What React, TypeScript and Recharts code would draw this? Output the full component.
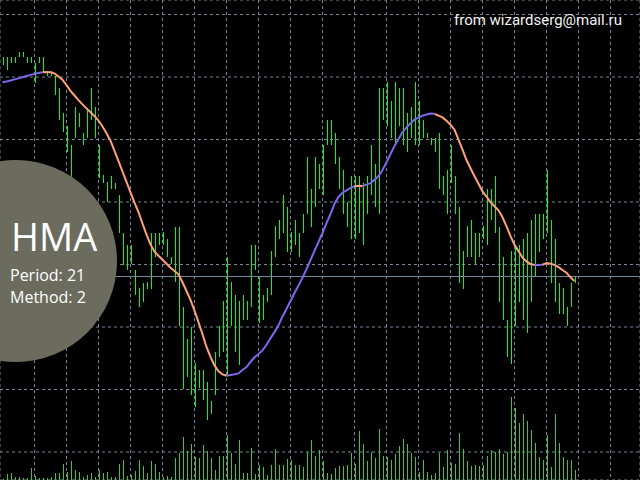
import React from "react";
import {
  ComposedChart,
  Bar,
  Line,
  XAxis,
  YAxis,
  CartesianGrid,
  ReferenceLine,
} from "recharts";

const barHigh = [
  423, 423, 423, 423, 428, 428, 423, 423, 417, 423, 423, 409, 409, 404, 392, 367, 354, 335, 373, 367, 347, 372, 392, 373,
  335, 305, 298, 304, 297, 285, 247, 235, 235, 210, 192, 197, 198, 247, 247, 247, 248, 241, 223, 253, 253, 173, 141, 153,
  117, 110, 110, 98, 79, 128, 154, 179, 223, 198, 185, 179, 185, 179, 235, 235, 204, 185, 192, 229, 254, 260, 285, 273,
  248, 260, 247, 266, 323, 291, 323, 316, 335, 360, 360, 347, 323, 310, 278, 304, 304, 304, 297, 304, 335, 316, 392, 392,
  398, 379, 398, 392, 392, 367, 373, 398, 379, 360, 347, 342, 342, 347, 304, 310, 335, 304, 273, 229, 254, 260, 247, 247,
  254, 291, 291, 304, 253, 223, 160, 229, 235, 235, 241, 247, 260, 266, 266, 266, 310, 260, 241, 197, 192, 173, 197, 204,
];
const barLow = [
  415, 410, 417, 417, 423, 423, 417, 417, 397, 417, 408, 404, 404, 385, 360, 348, 328, 300, 342, 353, 335, 342, 360, 342,
  302, 297, 278, 291, 291, 247, 215, 210, 216, 185, 173, 178, 191, 191, 223, 235, 235, 223, 216, 198, 154, 91, 103, 85,
  73, 92, 80, 60, 66, 85, 123, 128, 105, 154, 128, 115, 160, 160, 173, 210, 157, 160, 178, 185, 223, 241, 247, 228,
  228, 235, 223, 247, 266, 253, 273, 291, 285, 335, 335, 316, 291, 266, 253, 241, 241, 247, 235, 266, 285, 273, 266, 360,
  354, 342, 335, 354, 335, 328, 342, 335, 335, 342, 342, 335, 328, 291, 285, 266, 297, 266, 197, 191, 223, 223, 216, 223,
  241, 235, 260, 247, 178, 160, 123, 116, 154, 178, 160, 147, 178, 204, 228, 241, 247, 197, 178, 166, 166, 154, 173, 197,
];
const volume = [
  1, 6, 7, 3, 3, 2, 2, 12, 4, 2, 2, 2, 3, 7, 7, 16, 8, 19, 10, 8, 3, 5, 7, 3,
  10, 7, 8, 3, 3, 16, 20, 4, 5, 9, 20, 14, 7, 19, 16, 8, 3, 4, 3, 22, 27, 43, 29, 36,
  23, 22, 35, 29, 22, 10, 24, 24, 45, 27, 16, 40, 7, 7, 32, 6, 15, 13, 5, 15, 31, 15, 15, 21,
  20, 15, 15, 13, 28, 40, 24, 30, 19, 7, 6, 12, 14, 14, 15, 27, 16, 49, 36, 19, 28, 22, 51, 24,
  23, 20, 26, 34, 41, 36, 27, 23, 8, 20, 8, 5, 7, 27, 13, 30, 17, 16, 47, 31, 19, 14, 15, 14,
  15, 24, 30, 28, 31, 26, 28, 83, 72, 57, 66, 59, 50, 37, 23, 20, 45, 13, 66, 37, 23, 20, 20, 10,
];
const hma = [
  397.8, 398.6, 399.5, 400.6, 401.6, 402.8, 404.0, 405.1, 406.1, 407.0, 407.7, 407.9, 407.8, 406.6, 403.5, 400.3,
  394.8, 389.2, 384.5, 379.9, 375.6, 371.6, 367.7, 364.0, 359.5, 353.5, 346.7, 339.3, 329.1, 318.8, 308.5, 298.1,
  287.7, 277.4, 267.8, 256.5, 245.4, 235.6, 228.3, 224.3, 220.3, 216.3, 212.3, 209.0, 205.7, 197.7, 189.0, 180.1,
  169.4, 157.9, 145.7, 133.0, 123.2, 114.6, 108.6, 105.6, 104.3, 105.0, 105.7, 106.6, 110.0, 112.9, 118.0, 122.7,
  125.9, 129.6, 135.3, 141.8, 147.9, 154.7, 163.6, 171.0, 179.0, 187.0, 194.4, 202.3, 210.8, 220.0, 229.2, 238.0,
  247.0, 256.8, 266.0, 276.2, 283.1, 287.3, 289.7, 292.1, 293.9, 294.0, 294.0, 295.4, 296.9, 300.1, 304.0, 310.0,
  317.6, 326.0, 334.1, 340.9, 347.7, 352.7, 356.7, 360.3, 362.3, 364.3, 365.6, 366.5, 366.2, 364.4, 362.6, 359.3,
  355.3, 350.3, 340.3, 330.3, 320.0, 311.8, 303.8, 296.2, 288.6, 283.4, 278.0, 273.7, 269.7, 262.7, 253.6, 243.8,
  235.3, 228.9, 222.5, 218.6, 215.9, 215.1, 215.0, 215.3, 216.9, 216.3, 215.1, 212.8, 210.0, 207.2, 202.7, 199.0,
];
// colour runs of the HMA line: [from bar, to bar, rising?]
const hmaRuns: [number, number, boolean][] = [
  [0, 10, true],
  [10, 56, false],
  [56, 88, true],
  [88, 90, false],
  [90, 108, true],
  [108, 133, false],
  [133, 135, true],
  [135, 143, false],
];
const priceGrid = [465.5, 403, 340.5, 278, 215.5, 153, 90.5, 28];
const timeGrid = [0, 8, 16, 24, 32, 40, 48, 56, 64, 72, 80, 88, 96, 104, 112, 120, 128, 136, 144, 152];
const bidPrice = 203.5;

const UP = "#7b68ee";
const DOWN = "#ffa07a";
const GRID = "#778899";

const data = barHigh.map((h, i) => {
  const row: any = { i, range: [barLow[i], h], vol: volume[i], up: null, down: null };
  return row;
});
hmaRuns.forEach(([a, b, rising]) => {
  for (let i = a; i <= b; i++) data[i][rising ? "up" : "down"] = hma[i];
});

function Stick(props: any) {
  const { x, y, width, height, color } = props;
  if (height == null || isNaN(y) || isNaN(x)) return <g />;
  const left = Math.floor(x + width / 2);
  const top = Math.round(y);
  const h = Math.max(1, Math.round(y + height) - top);
  return <rect x={left} y={top} width={1} height={h} fill={color} />;
}

export default function App() {
  return (
    <div style={{ position: "absolute", left: 0, top: 0, width: 640, height: 480, background: "#000" }}>
      <ComposedChart width={640} height={480} data={data} margin={{ top: 0, right: 0, bottom: 0, left: 0 }}>
        <CartesianGrid stroke={GRID} strokeDasharray="3 3" />
        <XAxis dataKey="i" type="number" domain={[-0.625, 159.375]} ticks={timeGrid} allowDataOverflow hide />
        <XAxis xAxisId="v" dataKey="i" type="number" domain={[-0.625, 159.375]} allowDataOverflow hide />
        <YAxis type="number" domain={[0, 480]} ticks={priceGrid} allowDataOverflow hide />
        <YAxis yAxisId="v" type="number" domain={[0, 480]} allowDataOverflow hide />
        <Bar xAxisId="v" yAxisId="v" dataKey="vol" barSize={1} shape={<Stick color="#32cd32" />} isAnimationActive={false} />
        <Bar dataKey="range" barSize={1} shape={<Stick color="#00ff00" />} isAnimationActive={false} />
        <ReferenceLine y={bidPrice} stroke={GRID} />
        <Line dataKey="up" stroke={UP} strokeWidth={2} dot={false} activeDot={false} isAnimationActive={false} />
        <Line dataKey="down" stroke={DOWN} strokeWidth={2} dot={false} activeDot={false} isAnimationActive={false} />
      </ComposedChart>
      <svg width={640} height={480} style={{ position: "absolute", left: 0, top: 0, pointerEvents: "none" }}>
        <circle cx={16} cy={261} r={101} fill="#6b6c5e" />
        <text x={11} y={251} fill="#fff" fontFamily="Open Sans" fontSize={38}>HMA</text>
        <text x={10} y={281} fill="#fff" fontFamily="Open Sans" fontSize={16}>Period: 21</text>
        <text x={10} y={303} fill="#fff" fontFamily="Open Sans" fontSize={16}>Method: 2</text>
        <text x={454} y={25} fill="#f2f2f2" fontFamily="Roboto" fontSize={15}>from wizardserg@mail.ru</text>
      </svg>
    </div>
  );
}
